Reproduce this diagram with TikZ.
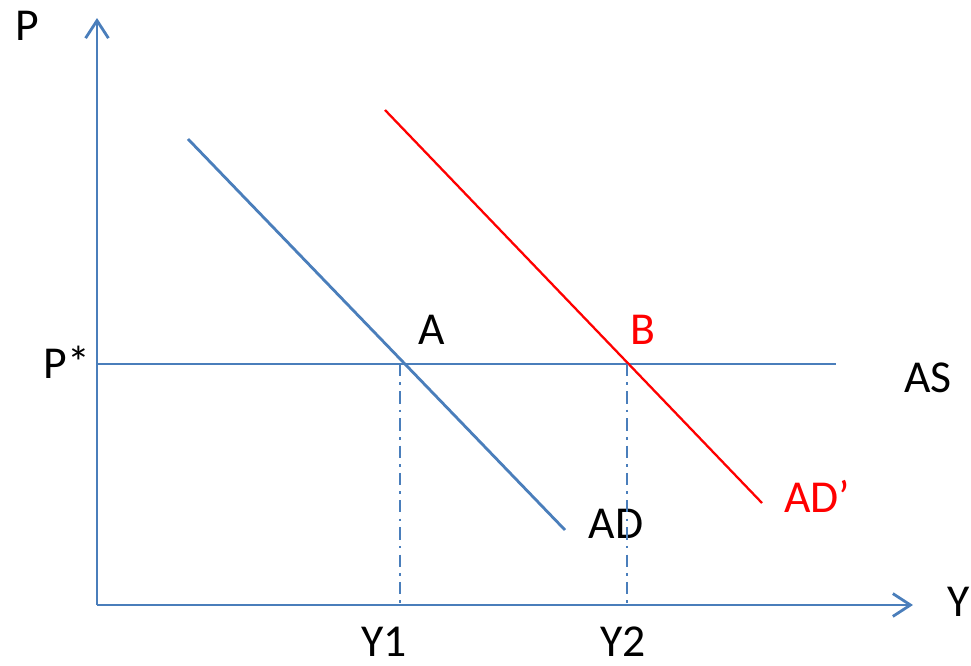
\documentclass[tikz,border=0pt]{standalone}
\usepackage{fontspec}
\setmainfont{Carlito}
\usetikzlibrary{arrows.meta}
\definecolor{axblue}{RGB}{74, 126, 187}
\definecolor{shiftred}{RGB}{255, 0, 0}

\begin{document}
\begin{tikzpicture}[
    x=0.02cm, y=-0.02cm,
    every node/.style = {font=\fontsize{26}{30}\selectfont, inner sep=0pt},
    axis/.style = {draw=axblue, line width=1.6pt, -{Straight Barb[length=10pt, width=13pt, line width=1.6pt]}},
    curve/.style = {draw=axblue, line width=1.6pt},
    shifted/.style = {draw=shiftred, line width=1.3pt},
    guide/.style = {draw=axblue, line width=1.3pt, dash pattern=on 7pt off 3.5pt on 1.5pt off 3.5pt}
]
  \useasboundingbox (0,0) rectangle (971,666);

  % axes
  \coordinate (origin) at (97,605);
  \coordinate (ytop) at (97,18);
  \coordinate (xend) at (913,605);
  \draw[axis] (origin) -- (ytop);
  \draw[axis] (origin) -- (xend);
  \node (plabel) at (27,26) {P};
  \node (ylabel) at (959,602) {Y};

  % aggregate supply
  \coordinate (asleft) at (97,364);
  \coordinate (asright) at (836,364);
  \draw[curve] (asleft) -- (asright);
  \node (pstar) at (67,362) {P*};
  \node (aslabel) at (928,378) {AS};

  % demand curves
  \coordinate (adtop) at (188,139);
  \coordinate (adbot) at (565,530);
  \draw[curve] (adtop) -- (adbot);
  \node (adlabel) at (616,524) {AD};

  \coordinate (adshtop) at (385,110);
  \coordinate (adshbot) at (762,503);
  \draw[shifted] (adshtop) -- (adshbot);
  \node[text=shiftred] (adshlabel) at (817,496) {AD’};

  % equilibria
  \coordinate (eqA) at (400,364);
  \coordinate (eqB) at (627,364);
  \coordinate (footA) at (400,605);
  \coordinate (footB) at (627,605);
  \draw[guide] (eqA) -- (footA);
  \draw[guide] (eqB) -- (footB);
  \node (alabel) at (432,330) {A};
  \node[text=shiftred] (blabel) at (643,330) {B};
  \node (y1label) at (384,642) {Y1};
  \node (y2label) at (623,642) {Y2};
\end{tikzpicture}
\end{document}
